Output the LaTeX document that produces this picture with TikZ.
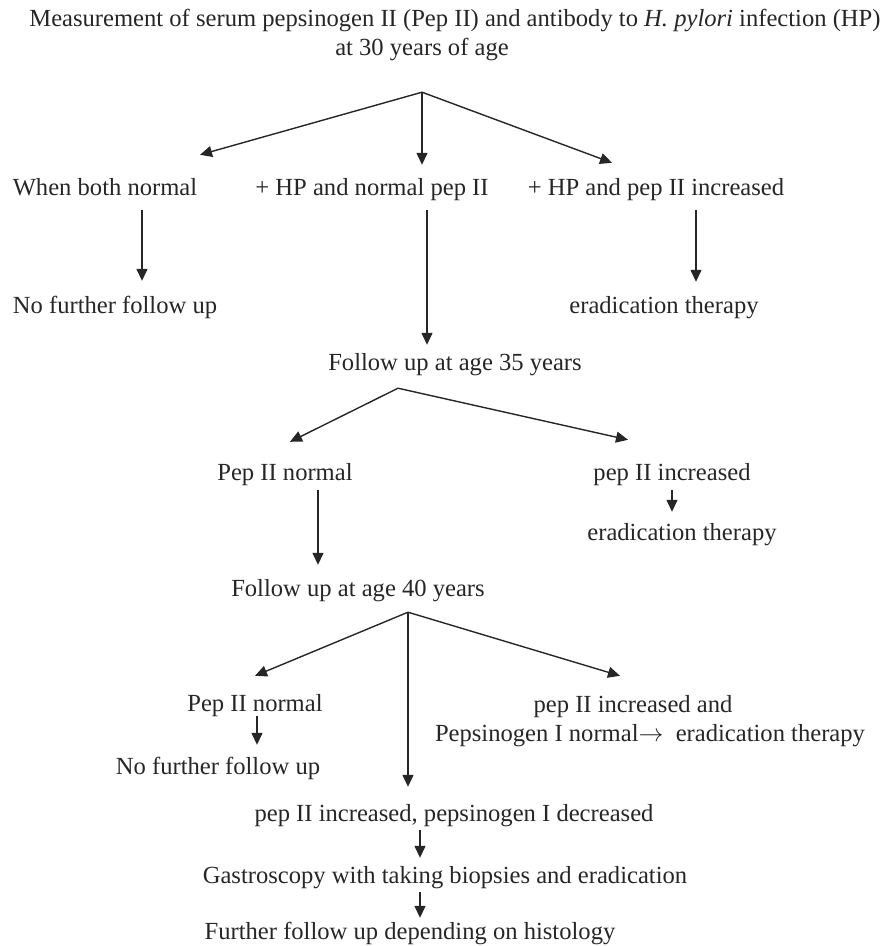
\documentclass[tikz,border=0pt]{standalone}
\usepackage{fontspec}
\setmainfont{Liberation Serif}
\usetikzlibrary{arrows.meta,calc}

\begin{document}
\begin{tikzpicture}[
  x=1pt,y=-1pt,
  txt/.style={font=\fontsize{24.6}{29}\selectfont,text=black!85,inner sep=0pt,anchor=base,text height=17pt,text depth=5pt},
  arr/.style={-{Triangle[length=12pt,width=11pt]},line width=1.4pt,draw=black!85}
]
\useasboundingbox (0,0) rectangle (882,946);
\node[txt] (title) at (455,26) {Measurement of serum pepsinogen II (Pep II) and antibody to \textit{H. pylori} infection (HP)};
\node[txt] (age30) at (422,55) {at 30 years of age};
\node[txt] (both) at (105,195) {When both normal};
\node[txt] (hpn) at (372,195) {+ HP and normal pep II};
\node[txt] (hpi) at (656,195) {+ HP and pep II increased};
\node[txt] (nofu1) at (115,313) {No further follow up};
\node[txt] (erad1) at (664,313) {eradication therapy};
\node[txt] (fu35) at (455,370) {Follow up at age 35 years};
\node[txt] (pep2n) at (285,480) {Pep II normal};
\node[txt] (pep2i) at (672,480) {pep II increased};
\node[txt] (erad2) at (682,540) {eradication therapy};
\node[txt] (fu40) at (358,596) {Follow up at age 40 years};
\node[txt] (pep2nb) at (255,711) {Pep II normal};
\node[txt] (nofu2) at (218,774) {No further follow up};
\node[txt] (incand) at (633,712) {pep II increased and};
\node[txt] (pepInorm) at (650,741) {Pepsinogen I normal$\rightarrow$~ eradication therapy};
\node[txt] (dec) at (454,821) {pep II increased, pepsinogen I decreased};
\node[txt] (gastro) at (445,883) {Gastroscopy with taking biopsies and eradication};
\node[txt] (further) at (410,939) {Further follow up depending on histology};
\coordinate (s1) at ($(age30.south)+(0,32)$);
\coordinate (s2) at ($(fu35.south)+(-57,13)$);
\coordinate (s3) at ($(fu40.south)+(50,11)$);
\draw[arr] (s1) -- ($(both.north)+(95,-23)$);
\draw[arr] (s1) -- ($(hpn.north)+(50,-13)$);
\draw[arr] (s1) -- ($(hpi.north)+(-44,-15)$);
\draw[arr] ($(both.south)+(37,10)$) -- ($(nofu1.north)+(27,-15)$);
\draw[arr] ($(hpn.south)+(55,10)$) -- ($(fu35.north)+(-28,-8)$);
\draw[arr] ($(hpi.south)+(40,10)$) -- ($(erad1.north)+(32,-14)$);
\draw[arr] (s2) -- ($(pep2n.north)+(5,-21)$);
\draw[arr] (s2) -- ($(pep2i.north)+(-44,-23)$);
\draw[arr] ($(pep2i.south)+(0,5)$) -- ($(erad2.north)+(-10,-11)$);
\draw[arr] ($(pep2n.south)+(33,5)$) -- ($(fu40.north)+(-40,-14)$);
\draw[arr] (s3) -- ($(pep2nb.north)+(0,-18)$);
\draw[arr] (s3) -- ($(incand.north)+(-13,-19)$);
\draw[arr] (s3) -- ($(dec.north)+(-46,-17)$);
\draw[arr] ($(pep2nb.south)+(2,0)$) -- ($(nofu2.north)+(39,-12)$);
\draw[arr] ($(dec.south)+(-34,4)$) -- ($(gastro.north)+(-25,-8)$);
\draw[arr] ($(gastro.south)+(-25,4)$) -- ($(further.north)+(10,-4)$);
\end{tikzpicture}
\end{document}
